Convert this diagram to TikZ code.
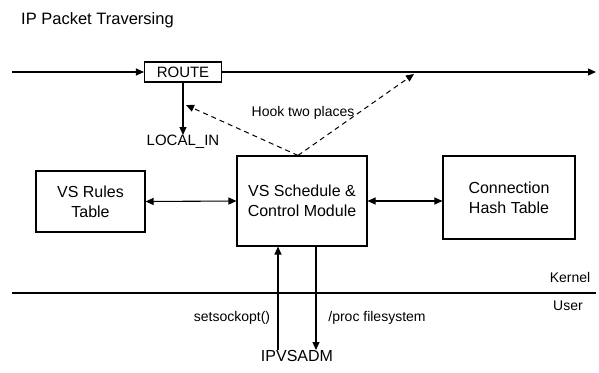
\documentclass[tikz,border=0pt]{standalone}
\usepackage{fontspec}
\setmainfont{Liberation Sans}
\usetikzlibrary{arrows.meta}
\tikzset{
  blk/.style={draw,line width=1.1pt,align=center,inner sep=0pt,font=\fontsize{16}{20}\selectfont},
  lbl/.style={inner sep=0pt,font=\fontsize{14}{16}\selectfont},
  ln/.style={line width=1.1pt},
  tip/.style={-{Triangle[length=8pt,width=7pt]}},
  dtip/.style={{Triangle[length=8pt,width=7pt]}-{Triangle[length=8pt,width=7pt]}},
  hookline/.style={line width=1pt,dash pattern=on 5pt off 4pt},
}
\begin{document}
\begin{tikzpicture}[x=1pt,y=-1pt]
\useasboundingbox (0,0) rectangle (599,372);
\node[lbl,anchor=west,font=\fontsize{16.5}{18}\selectfont] (title) at (21,20) {IP Packet Traversing};
% packet path
\coordinate (in) at (12,72);
\coordinate (out) at (596,72);
\node[blk,minimum width=77pt,minimum height=20pt,font=\fontsize{15}{18}\selectfont] (route) at (183,72) {ROUTE};
\draw[ln,tip] (in) -- (route.west);
\draw[ln,tip] (route.east) -- (out);
\node[lbl,anchor=north,font=\fontsize{15}{18}\selectfont] (localin) at (183,135) {LOCAL\_IN};
\draw[ln,tip] (route.south) -- (localin.north);
% modules
\node[blk,minimum width=109pt,minimum height=61pt] (rules) at (90.5,201.5) {VS Rules\\Table};
\node[blk,minimum width=130pt,minimum height=90pt] (sched) at (302,201) {VS Schedule \&\\Control Module};
\node[blk,minimum width=132pt,minimum height=83pt] (hash) at (509,197.5) {Connection\\Hash Table};
\draw[ln,dtip] (rules.east) -- (sched.west);
\draw[ln,dtip] (sched.east) -- (sched.east -| hash.west);
% hooks
\coordinate (hookA) at (186,105);
\coordinate (hookB) at (414,74);
\draw[hookline,tip] ([xshift=-4pt]sched.north) -- (hookA);
\draw[hookline,tip] ([xshift=-4pt]sched.north) -- (hookB);
\node[lbl] (hook) at (303,113) {Hook two places};
% kernel / user
\coordinate (kl) at (12,293);
\coordinate (kr) at (596,293);
\draw[ln] (kl) -- (kr);
\node[lbl] (kernel) at (570,277) {Kernel};
\node[lbl] (user) at (568,306) {User};
% user space tool
\node[lbl,anchor=north,font=\fontsize{16}{18}\selectfont] (ipvsadm) at (297,350) {IPVSADM};
\draw[ln,tip] (ipvsadm.north -| 278,0) -- (sched.south -| 278,0);
\draw[ln,tip] (sched.south -| 316,0) -- (ipvsadm.north -| 316,0);
\node[lbl] (sockopt) at (232,318) {setsockopt()};
\node[lbl] (procfs) at (377,318) {/proc filesystem};
\end{tikzpicture}
\end{document}
